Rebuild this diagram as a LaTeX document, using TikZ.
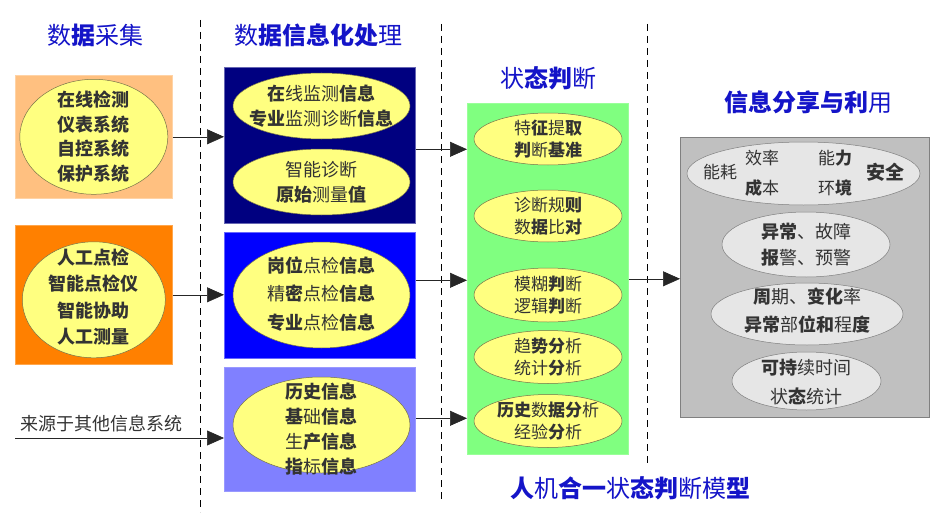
\documentclass[tikz,border=0pt]{standalone}
\usepackage{fontspec}
\setmainfont{Noto Sans CJK SC}
\usetikzlibrary{positioning,calc,shapes.geometric,arrows.meta}

\definecolor{acqlight}{RGB}{255,192,128}
\definecolor{acqdark}{RGB}{255,128,0}
\definecolor{procnavy}{RGB}{0,0,128}
\definecolor{procblue}{RGB}{0,0,255}
\definecolor{procpale}{RGB}{128,128,255}
\definecolor{judgegreen}{RGB}{128,255,128}
\definecolor{sharegray}{RGB}{192,192,192}
\definecolor{ellyellow}{RGB}{255,255,128}
\definecolor{ellgray}{RGB}{230,230,230}
\definecolor{titleblue}{RGB}{20,20,200}

\begin{document}
\begin{tikzpicture}[
  x=1pt, y=-1pt,
  colbox/.style={
    rectangle, anchor=north west,
    line width=0.6pt, inner sep=0pt,
  },
  infoell/.style={
    ellipse, draw=black!45!yellow!70!black, line width=0.5pt,
    fill=ellyellow, inner sep=0pt,
  },
  grayell/.style={
    ellipse, draw=black!50, line width=0.5pt,
    fill=ellgray, inner sep=0pt,
  },
  hdr/.style={font=\fontsize{24}{28}\selectfont, text=titleblue},
  itm/.style={align=center, text=black!80, font=\fontsize{18}{25}\selectfont},
  sml/.style={align=center, text=black!80, font=\fontsize{17}{22}\selectfont},
  flow/.style={-{Triangle[length=17pt,width=15pt]}, line width=0.6pt, draw=black!85},
  sepline/.style={dash pattern=on 7pt off 5pt, line width=0.6pt},
]
\useasboundingbox (0,0) rectangle (945,519);

% ----- column separators -----
\draw[sepline] (200,20) -- (200,512);
\draw[sepline] (441,24) -- (441,500);
\draw[sepline] (647,24) -- (647,467);

% ----- column headers -----
\node[hdr] (T1) at (95,35) {数\textbf{据}采集};
\node[hdr] (T2) at (318,35) {数\textbf{据信息化处}理};
\node[hdr] (T3) at (548,78) {状\textbf{态判}断};
\node[hdr] (T4) at (808,102) {\textbf{信息分享与利}用};
\node[hdr] (T5) at (630,488) {\textbf{人}机\textbf{合一}状\textbf{态判}断模\textbf{型}};

% ----- data acquisition -----
\node[colbox, draw=acqlight!70, fill=acqlight, minimum width=157, minimum height=123] (A1) at (15,75) {};
\node[infoell, minimum width=148, minimum height=115] (A1e) at (A1.center) {};
\node[itm, font=\bfseries\fontsize{18}{24.5}\selectfont] at (A1e) {在线检测\\仪表系统\\自控系统\\保护系统};

\node[colbox, draw=acqdark!70, fill=acqdark, minimum width=157, minimum height=139] (A2) at (15,225) {};
\node[infoell, minimum width=143, minimum height=116] (A2e) at ($(A2.center)+(0,5)$) {};
\node[itm, font=\bfseries\fontsize{18}{26.5}\selectfont] at ($(A2.center)+(0,2)$) {人工点检\\智能点检仪\\智能协助\\人工测量};

\coordinate (src) at (15,438);
\node[itm, anchor=south west, inner sep=0pt] (srcl) at (20,432) {来源于其他信息系统};

% ----- data processing -----
\node[colbox, draw=procnavy!60, fill=procnavy, minimum width=191, minimum height=156] (B1) at (224,67) {};
\node[infoell, minimum width=177, minimum height=66] (B1a) at (321.5,106) {};
\node[itm] at (B1a) {\textbf{在}线监测\textbf{信息}\\\textbf{专业}监测诊断\textbf{信息}};
\node[infoell, minimum width=177, minimum height=66] (B1b) at (321.5,182) {};
\node[itm] at (B1b) {智能诊断\\\textbf{原始}测量\textbf{值}};

\node[colbox, draw=procblue!60, fill=procblue, minimum width=191, minimum height=126] (B2) at (224,232) {};
\node[infoell, minimum width=177, minimum height=106] (B2e) at (321.5,295) {};
\node[itm, font=\fontsize{18}{28.5}\selectfont] at ($(B2e)+(0,-1)$) {\textbf{岗位}点检\textbf{信息}\\精\textbf{密}点检\textbf{信息}\\\textbf{专业}点检\textbf{信息}};

\node[colbox, draw=procpale!80, fill=procpale, minimum width=191, minimum height=124] (B3) at (224,367) {};
\node[infoell, minimum width=177, minimum height=96] (B3e) at (321.5,425) {};
\node[itm] at ($(B3e)+(0,4)$) {\textbf{历史信息}\\\textbf{基}础\textbf{信息}\\生\textbf{产信息}\\\textbf{指}标\textbf{信息}};

% ----- state judgement -----
\node[colbox, draw=judgegreen!80, fill=judgegreen, minimum width=161, minimum height=351] (C) at (467,103) {};
\node[infoell, minimum width=148, minimum height=52] (C1) at (548,139) {};
\node[sml] at (C1) {特\textbf{征}提\textbf{取}\\\textbf{判}断\textbf{基准}};
\node[infoell, minimum width=148, minimum height=52] (C2) at (548,216) {};
\node[sml] at (C2) {诊断规\textbf{则}\\数\textbf{据}比\textbf{对}};
\node[infoell, minimum width=148, minimum height=54] (C3) at (548,295) {};
\node[sml] at (C3) {模糊\textbf{判}断\\逻辑\textbf{判}断};
\node[infoell, minimum width=148, minimum height=53] (C4) at (548,357) {};
\node[sml] at (C4) {趋\textbf{势分}析\\统计\textbf{分}析};
\node[infoell, minimum width=148, minimum height=53] (C5) at (548,421) {};
\node[sml] at (C5) {\textbf{历史}数\textbf{据分}析\\经验\textbf{分}析};

% ----- information sharing -----
\node[colbox, draw=black!50, fill=sharegray, minimum width=249, minimum height=280] (D) at (680,137) {};
\node[grayell, minimum width=233, minimum height=63] (D1) at (803.5,173.5) {};
\node[sml] at (720,172) {能耗};
\node[sml] at (762,158) {效率};
\node[sml] at (762,188) {\textbf{成}本};
\node[sml] at (835,158) {能\textbf{力}};
\node[sml] at (835,188) {环\textbf{境}};
\node[itm, font=\bfseries\fontsize{19}{24}\selectfont] at (885,172) {安全};
\node[grayell, minimum width=168, minimum height=65] (D2) at (806,244.5) {};
\node[itm, font=\fontsize{18}{26}\selectfont] at (D2) {\textbf{异常}、故障\\\textbf{报}警、预警};
\node[grayell, minimum width=192, minimum height=62] (D3) at (807,314) {};
\node[itm, font=\fontsize{18}{28}\selectfont] at ($(D3)+(0,-3)$) {\textbf{周}期、\textbf{变化}率\\\textbf{异常}部\textbf{位和}程\textbf{度}};
\node[grayell, minimum width=149, minimum height=58] (D4) at (806.5,381) {};
\node[itm, font=\fontsize{18}{29}\selectfont] at ($(D4)+(0,1)$) {\textbf{可持}续时间\\状\textbf{态}统计};

% ----- flow arrows -----
\draw[flow] (A1.east) -- (A1.east -| B1.west);
\draw[flow] (A2.east) -- (A2.east -| B2.west);
\draw[flow] (src) -- (src -| B3.west);
\draw[flow] ([yshift=-4pt]B1.east) -- ([yshift=-4pt]B1.east -| C.west);
\draw[flow] ([yshift=15pt]B2.east) -- ([yshift=15pt]B2.east -| C.west);
\draw[flow] ([yshift=11pt]B3.east) -- ([yshift=11pt]B3.east -| C.west);
\draw[flow] (C.east) -- (C.east -| D.west);

\end{tikzpicture}
\end{document}
